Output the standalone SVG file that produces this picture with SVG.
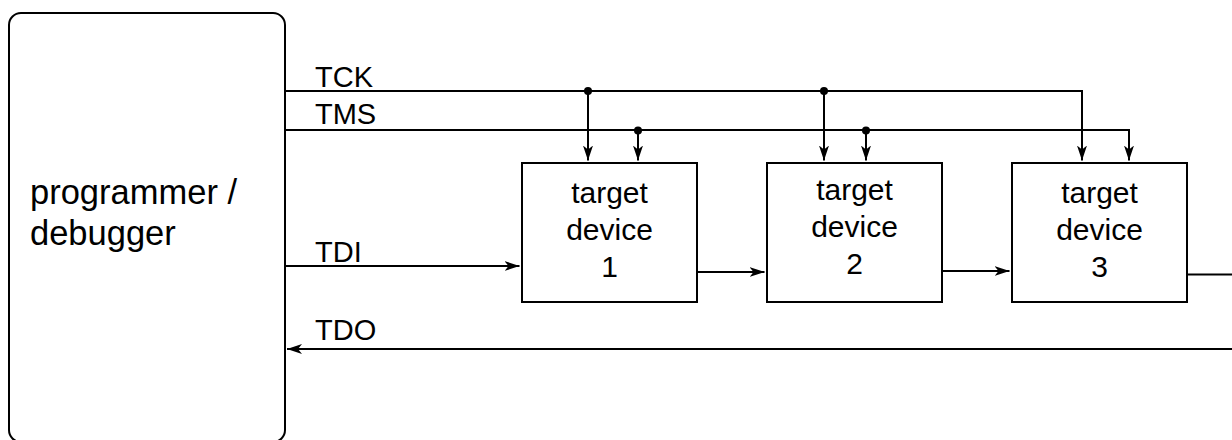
<svg xmlns="http://www.w3.org/2000/svg" width="1232" height="440" viewBox="0 0 1232 440">
<style>
.box{fill:#fff;stroke:#000;stroke-width:2}
.ln{fill:none;stroke:#000;stroke-width:2}
.t{font-family:"Liberation Sans",Arial,sans-serif;fill:#000}
.dev{font-size:30px;text-anchor:middle}
.lab{font-size:29px}
.dot{fill:#000}
</style>
<defs>
<marker id="ah" markerUnits="userSpaceOnUse" markerWidth="16" markerHeight="12" refX="15" refY="6" orient="auto" viewBox="0 0 16 12">
<path d="M0,1 L15,6 L0,11 L4,6 Z" fill="#000"/>
</marker>
</defs>
<rect width="1232" height="440" fill="#fff"/>
<g id="programmer">
<rect class="box" x="9" y="13" width="276" height="429" rx="12" ry="12"/>
<text class="t" x="30" y="204" font-size="34.5">programmer /</text>
<text class="t" x="30" y="245" font-size="34.5">debugger</text>
</g>
<g id="device1">
<rect class="box" x="522" y="163" width="175" height="139"/>
<text class="t dev" x="609.5" y="203">target</text>
<text class="t dev" x="609.5" y="240">device</text>
<text class="t dev" x="609.5" y="277">1</text>
</g>
<g id="device2">
<rect class="box" x="767" y="163" width="175" height="139"/>
<text class="t dev" x="854.5" y="200">target</text>
<text class="t dev" x="854.5" y="237">device</text>
<text class="t dev" x="854.5" y="274">2</text>
</g>
<g id="device3">
<rect class="box" x="1012" y="163" width="175" height="139"/>
<text class="t dev" x="1099.5" y="203">target</text>
<text class="t dev" x="1099.5" y="240">device</text>
<text class="t dev" x="1099.5" y="277">3</text>
</g>
<g id="connectors">
<path class="ln" d="M285,91 H1082 V160.5" marker-end="url(#ah)"/>
<path class="ln" d="M285,130 H1129 V160.5" marker-end="url(#ah)"/>
<path class="ln" d="M588,91 V160.5" marker-end="url(#ah)"/>
<path class="ln" d="M638,130 V160.5" marker-end="url(#ah)"/>
<path class="ln" d="M824,91 V160.5" marker-end="url(#ah)"/>
<path class="ln" d="M866,130 V160.5" marker-end="url(#ah)"/>
<circle class="dot" cx="588" cy="91" r="4"/>
<circle class="dot" cx="638" cy="130.5" r="4"/>
<circle class="dot" cx="824" cy="91" r="4"/>
<circle class="dot" cx="866" cy="130.5" r="4"/>
<path class="ln" d="M285,266 H519.5" marker-end="url(#ah)"/>
<path class="ln" d="M697,272 H764.5" marker-end="url(#ah)"/>
<path class="ln" d="M942,271 H1009.5" marker-end="url(#ah)"/>
<path class="ln" d="M1187,274.5 H1232"/>
<path class="ln" d="M1232,349 H287" marker-end="url(#ah)"/>
<text class="t lab" x="315" y="86.5">TCK</text>
<text class="t lab" x="315" y="123.5">TMS</text>
<text class="t lab" x="315" y="261.5">TDI</text>
<text class="t lab" x="315" y="340">TDO</text>
</g>
</svg>
